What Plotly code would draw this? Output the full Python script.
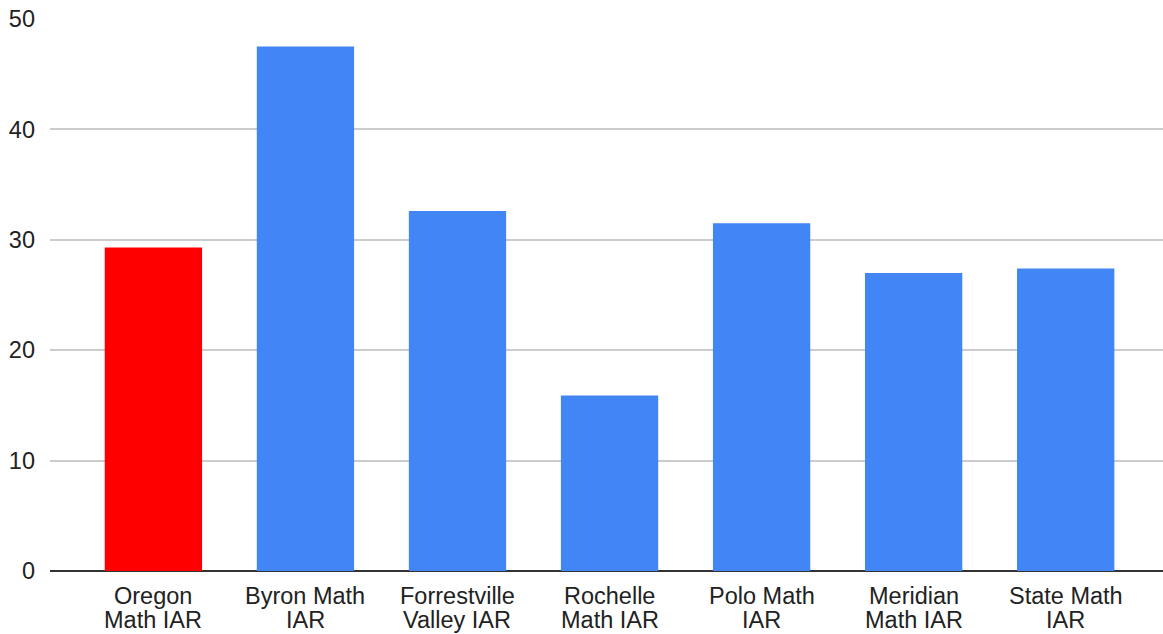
import plotly.graph_objects as go

label_line1 = ["Oregon", "Byron Math", "Forrestville", "Rochelle", "Polo Math", "Meridian", "State Math"]
label_line2 = ["Math IAR", "IAR", "Valley IAR", "Math IAR", "IAR", "Math IAR", "IAR"]
values = [29.3, 47.5, 32.6, 15.9, 31.5, 27.0, 27.4]
colors = ["#ff0000", "#4285f4", "#4285f4", "#4285f4", "#4285f4", "#4285f4", "#4285f4"]
y_ticks = [0, 10, 20, 30, 40, 50]

FONT = "Liberation Sans, Arial, sans-serif"
x = list(range(len(values)))

fig = go.Figure(go.Bar(x=x, y=values, marker_color=colors, marker_line_width=0, width=0.64))

annotations = []
for i, (l1, l2) in enumerate(zip(label_line1, label_line2)):
    annotations.append(dict(x=i, y=0, xref="x", yref="paper", text=l1, showarrow=False,
                            yanchor="top", yshift=-10, font=dict(family=FONT, size=23.5, color="#222222")))
    annotations.append(dict(x=i, y=0, xref="x", yref="paper", text=l2, showarrow=False,
                            yanchor="top", yshift=-34, font=dict(family=FONT, size=23.5, color="#222222")))

fig.update_layout(
    width=1163, height=634,
    margin=dict(l=50, r=0, t=19, b=63),
    plot_bgcolor="white", paper_bgcolor="white",
    font=dict(family=FONT, size=23.5, color="#222222"),
    showlegend=False,
    annotations=annotations,
)
fig.update_xaxes(range=[-0.68, 6.64], showticklabels=False, showgrid=False, zeroline=False,
                 showline=False, ticks="")
fig.update_yaxes(range=[0, 50], tickvals=y_ticks, showgrid=True, gridcolor="#cccccc", gridwidth=1.5,
                 zeroline=True, zerolinecolor="#333333", zerolinewidth=2, ticks="",
                 ticklabelstandoff=14, showline=False)
fig.write_html("out.html")
